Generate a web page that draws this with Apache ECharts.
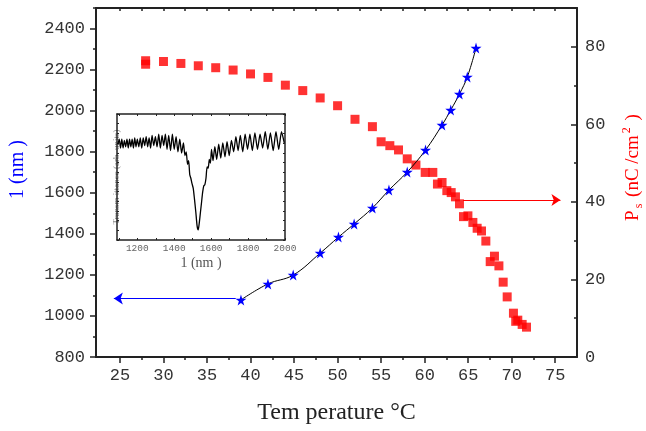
<!DOCTYPE html>
<html>
<head>
<meta charset="utf-8">
<script src="https://cdn.jsdelivr.net/npm/echarts@6/dist/echarts.min.js"></script>
<style>html,body{margin:0;padding:0;background:#fff}#c{width:646px;height:431px}</style>
</head>
<body>
<div id="c"></div>
<script>
// ---- data ----
var tempTicks = [25, 30, 35, 40, 45, 50, 55, 60, 65, 70, 75];
var tempMinor = [27.5, 32.5, 37.5, 42.5, 47.5, 52.5, 57.5, 62.5, 67.5, 72.5];
var lambdaTicks = [800, 1000, 1200, 1400, 1600, 1800, 2000, 2200, 2400];
var lambdaMinor = [900, 1100, 1300, 1500, 1700, 1900, 2100, 2300, 2500];
var psTicks = [0, 20, 40, 60, 80];
var psMinor = [10, 30, 50, 70, 90];

// wavelength (nm) vs temperature (blue stars)
var starT = [38.9, 42.0, 44.9, 48.0, 50.1, 51.9, 54.0, 55.9, 58.0, 60.1, 62.0, 63.0, 64.0, 64.9, 65.9];
var starL = [1078, 1156, 1199, 1306, 1384, 1448, 1526, 1613, 1701, 1808, 1930, 2003, 2081, 2164, 2305];

// spontaneous polarization vs temperature (red squares)
var sqT = [27.95, 27.95, 30.0, 32.0, 34.0, 36.0, 38.0, 40.0, 42.0, 44.0, 46.0, 48.0, 50.0, 52.0, 54.0,
           55.0, 56.0, 57.0, 58.0, 59.0, 60.06, 60.94, 61.47, 62.0, 62.55, 63.05, 63.54, 64.0, 64.46, 64.97,
           65.54, 66.03, 66.53, 67.03, 67.53, 68.02, 68.53, 69.02, 69.48, 70.2, 70.46, 70.7, 71.2, 71.7];
var sqP = [76.4, 75.5, 76.2, 75.7, 75.1, 74.6, 74.0, 73.0, 72.1, 70.1, 68.7, 66.8, 64.8, 61.3, 59.4,
           55.5, 54.5, 53.4, 51.1, 49.5, 47.6, 47.6, 44.6, 45.0, 42.9, 42.4, 41.3, 39.5, 36.2, 36.4,
           34.7, 33.2, 32.5, 29.9, 24.6, 26.0, 23.5, 19.3, 15.5, 11.3, 9.2, 9.5, 8.4, 7.7];

// inset: transmittance spectrum (arb. units)
var insetNm = [1095,1102,1109,1116,1123,1130,1137,1144,1151,1158,1165,1172,1179,1186,1193,1200,1208,1216,1224,1232,
  1240,1248,1256,1264,1272,1280,1289,1298,1307,1316,1325,1334,1343,1352,1361,1370,1380,1390,1400,1410,
  1420,1430,1440,1450,1458,1465,1472,1478,1484,1490,1496,1503,1510,1517,1524,1530,1536,1542,1548,1554,
  1560,1566,1572,1578,1584,1590,1596,1602,1610,1620,1630,1641,1652,1663,1675,1686,1698,1710,1722,1734,
  1746,1758,1771,1784,1797,1810,1823,1837,1851,1865,1879,1893,1907,1921,1936,1951,1966,1981,1996];
var insetT = [76,80,73,80,73,79,74,80,73,80,74,80,73,81,74,80,74,81,73,81,
  75,82,74,81,73,83,75,82,74,84,73,83,75,84,72,83,71,84,72,82,
  70,80,69,77,67,70,60,63,52,49,45,41,32,22,11,8,14,22,30,38,
  43,44,49,58,57,64,61,72,63,74,64,76,65,77,66,78,67,79,70,82,
  71,83,70,84,72,84,71,85,72,84,73,86,72,85,71,86,72,86,77];
var insetTicks = [1200, 1400, 1600, 1800, 2000];
var insetMinor = [1100, 1200, 1300, 1400, 1500, 1600, 1700, 1800, 1900, 2000];

// arrows (pointing to the axis of each series)
var blueArrow = [[38.3, 1085], [24.3, 1085]];
var redArrow = [[64.4, 40.5], [75.6, 40.5]];

// ---- chart ----
function pairs(a, b) { return a.map(function (v, i) { return [v, b[i]]; }); }
function plain(v) { return String(v); }
var STAR = 'path://M50,0 L61,35 L98,35 L68,57 L79,91 L50,70 L21,91 L32,57 L2,35 L39,35 Z';
var axisCol = '#222';
var monoLbl = { fontFamily: 'Liberation Mono', fontSize: 17, color: '#333', formatter: plain };

var chart = echarts.init(document.getElementById('c'), null, { renderer: 'canvas' });
chart.setOption({
  animation: false,
  backgroundColor: '#fff',
  grid: [
    { left: 96, right: 69, top: 8, bottom: 74, containLabel: false, outerBoundsMode: 'none' },
    { left: 117, right: 361, top: 114, bottom: 191, containLabel: false, outerBoundsMode: 'none' }
  ],
  xAxis: [
    { // main bottom
      gridIndex: 0, type: 'value', min: 22.25, max: 77.5, position: 'bottom',
      name: 'Tem perature °C', nameLocation: 'middle', nameGap: 44,
      nameTextStyle: { fontFamily: 'Liberation Serif', fontSize: 24, color: '#222' },
      axisLine: { show: true, onZero: false, lineStyle: { color: axisCol, width: 2 } },
      axisTick: { show: true, customValues: tempTicks, length: 6, lineStyle: { color: axisCol, width: 1.5 } },
      axisLabel: Object.assign({ customValues: tempTicks, margin: 10 }, monoLbl),
      splitLine: { show: false }
    },
    { // minor ticks bottom
      gridIndex: 0, type: 'value', min: 22.25, max: 77.5, position: 'bottom',
      axisLine: { show: false, onZero: false },
      axisTick: { show: true, customValues: tempMinor, length: 3, lineStyle: { color: axisCol, width: 1.5 } },
      axisLabel: { show: false }, splitLine: { show: false }
    },
    { // top frame
      gridIndex: 0, type: 'value', min: 22.25, max: 77.5, position: 'top',
      axisLine: { show: true, onZero: false, lineStyle: { color: axisCol, width: 2 } },
      axisTick: { show: true, inside: true, customValues: tempTicks.concat(tempMinor), length: 3, lineStyle: { color: axisCol, width: 1.5 } },
      axisLabel: { show: false }, splitLine: { show: false }
    },
    { // inset bottom
      gridIndex: 1, type: 'value', min: 1090, max: 2000, position: 'bottom',
      name: '1 (nm )', nameLocation: 'middle', nameGap: 16,
      nameTextStyle: { fontFamily: 'Liberation Serif', fontSize: 14, color: '#555' },
      axisLine: { show: true, onZero: false, lineStyle: { color: axisCol, width: 1.5 } },
      axisTick: { show: true, inside: true, customValues: insetMinor, length: 2, lineStyle: { color: axisCol } },
      axisLabel: { customValues: insetTicks, margin: 3, fontFamily: 'Liberation Mono', fontSize: 9.5, color: '#666', formatter: plain },
      splitLine: { show: false }
    },
    { // inset top
      gridIndex: 1, type: 'value', min: 1090, max: 2000, position: 'top',
      axisLine: { show: true, onZero: false, lineStyle: { color: axisCol, width: 1.5 } },
      axisTick: { show: true, inside: true, customValues: insetMinor, length: 2, lineStyle: { color: axisCol } },
      axisLabel: { show: false }, splitLine: { show: false }
    }
  ],
  yAxis: [
    { // left: wavelength
      gridIndex: 0, type: 'value', min: 800, max: 2500, position: 'left',
      name: '1 (nm )', nameLocation: 'middle', nameGap: 68, nameRotate: 90,
      nameTextStyle: { fontFamily: 'Liberation Serif', fontSize: 20, color: '#0000ff', padding: [0, 0, 0, 26] },
      axisLine: { show: true, onZero: false, lineStyle: { color: axisCol, width: 2 } },
      axisTick: { show: true, customValues: lambdaTicks, length: 6, lineStyle: { color: axisCol, width: 1.5 } },
      axisLabel: Object.assign({ customValues: lambdaTicks, margin: 11 }, monoLbl),
      splitLine: { show: false }
    },
    { // right: Ps
      gridIndex: 0, type: 'value', min: 0, max: 90, position: 'right',
      name: 'P{sub|s} (nC /cm{sup|2} )', nameLocation: 'middle', nameGap: 44, nameRotate: 90,
      nameTextStyle: {
        fontFamily: 'Liberation Serif', fontSize: 19, color: '#ff0000', lineHeight: 24, padding: [0, 0, 0, 30],
        rich: {
          sub: { fontFamily: 'Liberation Serif', fontSize: 12, color: '#ff0000', verticalAlign: 'bottom', lineHeight: 24, padding: [4, 2, 0, 2] },
          sup: { fontFamily: 'Liberation Serif', fontSize: 12, color: '#ff0000', verticalAlign: 'top', lineHeight: 24, padding: [0, 2, 8, 2] }
        }
      },
      axisLine: { show: true, onZero: false, lineStyle: { color: axisCol, width: 2 } },
      axisTick: { show: true, inside: true, customValues: psTicks, length: 6, lineStyle: { color: axisCol, width: 1.5 } },
      axisLabel: Object.assign({ customValues: psTicks, margin: 8 }, monoLbl),
      splitLine: { show: false }
    },
    { // left minor ticks for wavelength
      gridIndex: 0, type: 'value', min: 800, max: 2500, position: 'left',
      axisLine: { show: false, onZero: false },
      axisTick: { show: true, customValues: lambdaMinor, length: 3, lineStyle: { color: axisCol, width: 1.5 } },
      axisLabel: { show: false }, splitLine: { show: false }
    },
    { // inset left
      gridIndex: 1, type: 'value', min: 0, max: 100, interval: 100 / 13, position: 'left',
      name: 'Transm ittance (arb. units)', nameLocation: 'middle', nameGap: -4, nameRotate: 90,
      nameTextStyle: { fontFamily: 'Liberation Serif', fontSize: 9, color: '#888' },
      axisLine: { show: true, onZero: false, lineStyle: { color: axisCol, width: 1.5 } },
      axisTick: { show: true, inside: true, length: 2, lineStyle: { color: axisCol } },
      axisLabel: { show: false }, splitLine: { show: false }
    },
    { // inset right
      gridIndex: 1, type: 'value', min: 0, max: 100, interval: 100 / 13, position: 'right',
      axisLine: { show: true, onZero: false, lineStyle: { color: axisCol, width: 1.5 } },
      axisTick: { show: true, inside: true, length: 2, lineStyle: { color: axisCol } },
      axisLabel: { show: false }, splitLine: { show: false }
    },
    { // right minor ticks for Ps
      gridIndex: 0, type: 'value', min: 0, max: 90, position: 'right',
      axisLine: { show: false, onZero: false },
      axisTick: { show: true, inside: true, customValues: psMinor, length: 3, lineStyle: { color: axisCol, width: 1.5 } },
      axisLabel: { show: false }, splitLine: { show: false }
    }
  ],
  series: [
    {
      type: 'line', xAxisIndex: 0, yAxisIndex: 0, data: pairs(starT, starL),
      smooth: 0.4, symbol: STAR, symbolSize: 11,
      itemStyle: { color: '#0000ff' }, lineStyle: { color: '#000', width: 1 },
      markLine: {
        silent: true, symbol: ['none', 'arrow'], symbolSize: 9,
        label: { show: false },
        lineStyle: { color: '#0000ff', width: 1.2, type: 'solid' },
        data: [[{ coord: blueArrow[0] }, { coord: blueArrow[1] }]]
      },
      z: 4
    },
    {
      type: 'scatter', xAxisIndex: 0, yAxisIndex: 1, data: pairs(sqT, sqP),
      symbol: 'rect', symbolSize: 9, itemStyle: { color: '#ff0000' },
      markLine: {
        silent: true, symbol: ['none', 'arrow'], symbolSize: 9,
        label: { show: false },
        lineStyle: { color: '#ff0000', width: 1.2, type: 'solid' },
        data: [[{ coord: redArrow[0] }, { coord: redArrow[1] }]]
      },
      z: 3
    },
    {
      type: 'line', xAxisIndex: 3, yAxisIndex: 3, data: pairs(insetNm, insetT),
      symbol: 'none', smooth: 0.2, lineStyle: { color: '#000', width: 1.3 }, z: 5
    }
  ]
});
</script>
</body>
</html>
